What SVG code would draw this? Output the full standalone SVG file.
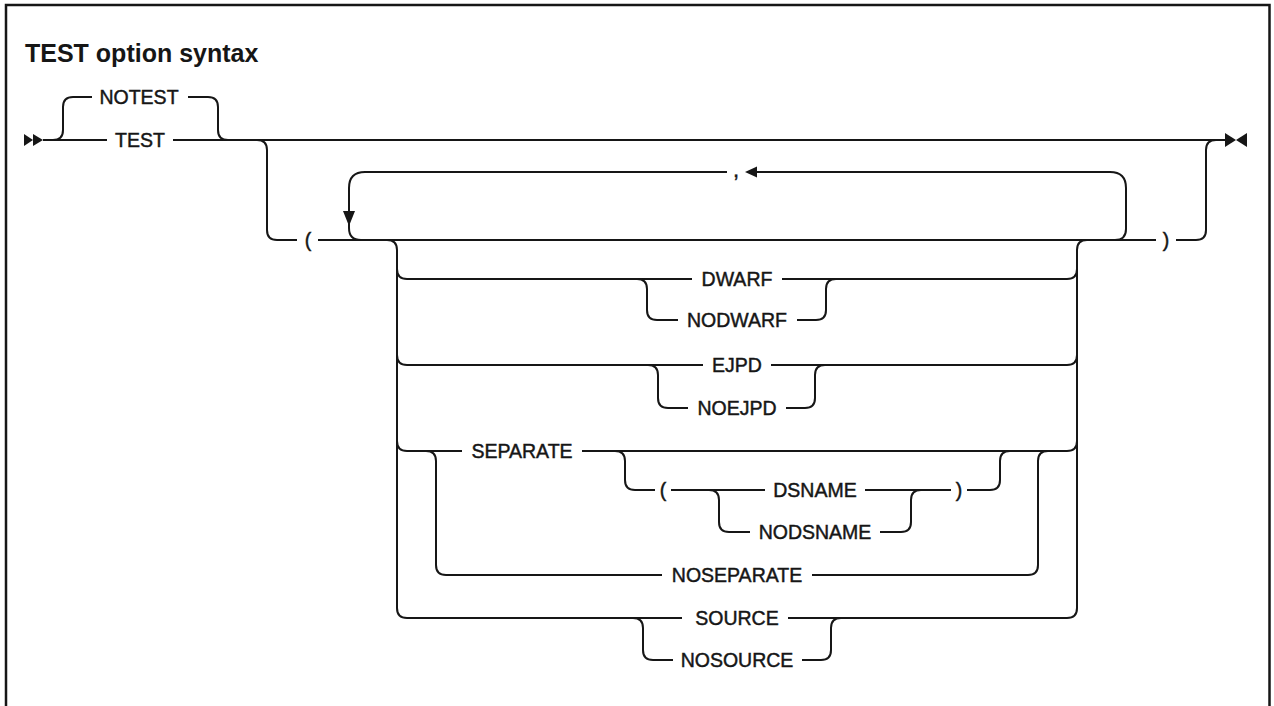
<svg xmlns="http://www.w3.org/2000/svg" width="1274" height="706" viewBox="0 0 1274 706">
<style>
.ln{fill:none;stroke:#161616;stroke-width:2}
.lb{font-family:"Liberation Sans",Arial,sans-serif;font-size:19.5px;fill:#161616;stroke:#161616;stroke-width:0.45;text-anchor:middle}
.ttl{font-family:"Liberation Sans",Arial,sans-serif;font-size:25px;font-weight:bold;fill:#161616}
.ah{fill:#161616}
</style>
<rect width="1274" height="706" fill="#fff"/>
<path d="M6 706 V5 H1269.5 V706" fill="none" stroke="#161616" stroke-width="2.5"/>
<text class="ttl" x="25" y="62">TEST option syntax</text>
<g id="connectors">
<polygon class="ah" points="24,134 33,140 24,146"/>
<polygon class="ah" points="33,134 43,140 33,146"/>
<polygon class="ah" points="1225,133 1236,140 1225,147"/>
<polygon class="ah" points="1247,133 1236,140 1247,147"/>
<path class="ln" d="M43 140 H107 M173 140 H1225"/>
<path class="ln" d="M53 140 Q63 140 63 130 V107 Q63 97 73 97 H92 M188 97 H208 Q218 97 218 107 V130 Q218 140 228 140"/>
<path class="ln" d="M257 140 Q267 140 267 150 V230 Q267 240 277 240 H297"/>
<path class="ln" d="M318 240 H1156 M1176 240 H1196 Q1206 240 1206 230 V150 Q1206 140 1216 140"/>
<path class="ln" d="M727 172 H365 Q349 172 349 188 V228 Q349 240 361 240"/>
<path class="ln" d="M757 172 H1110 Q1126 172 1126 188 V229 Q1126 240 1115 240"/>
<polygon class="ah" points="349,226 343,211 355,211"/>
<polygon class="ah" points="745,172 757,166.5 757,177.5"/>
<path class="ln" d="M387 240 Q397 240 397 250 V608 Q397 618 407 618 H682 M788 618 H1067 Q1077 618 1077 608 V250 Q1077 240 1087 240"/>
<path class="ln" d="M397 269 Q397 279 407 279 H692 M782 279 H1067 Q1077 279 1077 269"/>
<path class="ln" d="M637 279 Q647 279 647 289 V310 Q647 320 657 320 H678 M797 320 H816 Q826 320 826 310 V289 Q826 279 836 279"/>
<path class="ln" d="M397 355 Q397 365 407 365 H703 M771 365 H1067 Q1077 365 1077 355"/>
<path class="ln" d="M648 365 Q658 365 658 375 V398 Q658 408 668 408 H688 M786 408 H805 Q815 408 815 398 V375 Q815 365 825 365"/>
<path class="ln" d="M397 441 Q397 451 407 451 H462 M582 451 H1067 Q1077 451 1077 441"/>
<path class="ln" d="M426 451 Q436 451 436 461 V565 Q436 575 446 575 H662 M812 575 H1028 Q1038 575 1038 565 V461 Q1038 451 1048 451"/>
<path class="ln" d="M615 451 Q625 451 625 461 V480 Q625 490 635 490 H655 M671 490 H765 M865 490 H951 M967 490 H990 Q1000 490 1000 480 V461 Q1000 451 1010 451"/>
<path class="ln" d="M709 490 Q719 490 719 500 V522 Q719 532 729 532 H750 M880 532 H901 Q911 532 911 522 V500 Q911 490 921 490"/>
<path class="ln" d="M633 618 Q643 618 643 628 V650 Q643 660 653 660 H673 M802 660 H821 Q831 660 831 650 V628 Q831 618 841 618"/>
</g>
<g id="notest"><text class="lb" x="139" y="104">NOTEST</text></g>
<g id="test"><text class="lb" x="140" y="147">TEST</text></g>
<g id="lparen"><text class="lb" x="308" y="247">(</text></g>
<g id="rparen"><text class="lb" x="1166" y="247">)</text></g>
<g id="comma"><text class="lb" x="736" y="177" style="font-size:22px">,</text></g>
<g id="dwarf"><text class="lb" x="737" y="286">DWARF</text></g>
<g id="nodwarf"><text class="lb" x="737" y="327">NODWARF</text></g>
<g id="ejpd"><text class="lb" x="737" y="372">EJPD</text></g>
<g id="noejpd"><text class="lb" x="737" y="415">NOEJPD</text></g>
<g id="separate"><text class="lb" x="522" y="458">SEPARATE</text></g>
<g id="dsparen-l"><text class="lb" x="663" y="497">(</text></g>
<g id="dsname"><text class="lb" x="815" y="497">DSNAME</text></g>
<g id="dsparen-r"><text class="lb" x="959" y="497">)</text></g>
<g id="nodsname"><text class="lb" x="815" y="539">NODSNAME</text></g>
<g id="noseparate"><text class="lb" x="737" y="582">NOSEPARATE</text></g>
<g id="source"><text class="lb" x="737" y="625">SOURCE</text></g>
<g id="nosource"><text class="lb" x="737" y="667">NOSOURCE</text></g>
</svg>
